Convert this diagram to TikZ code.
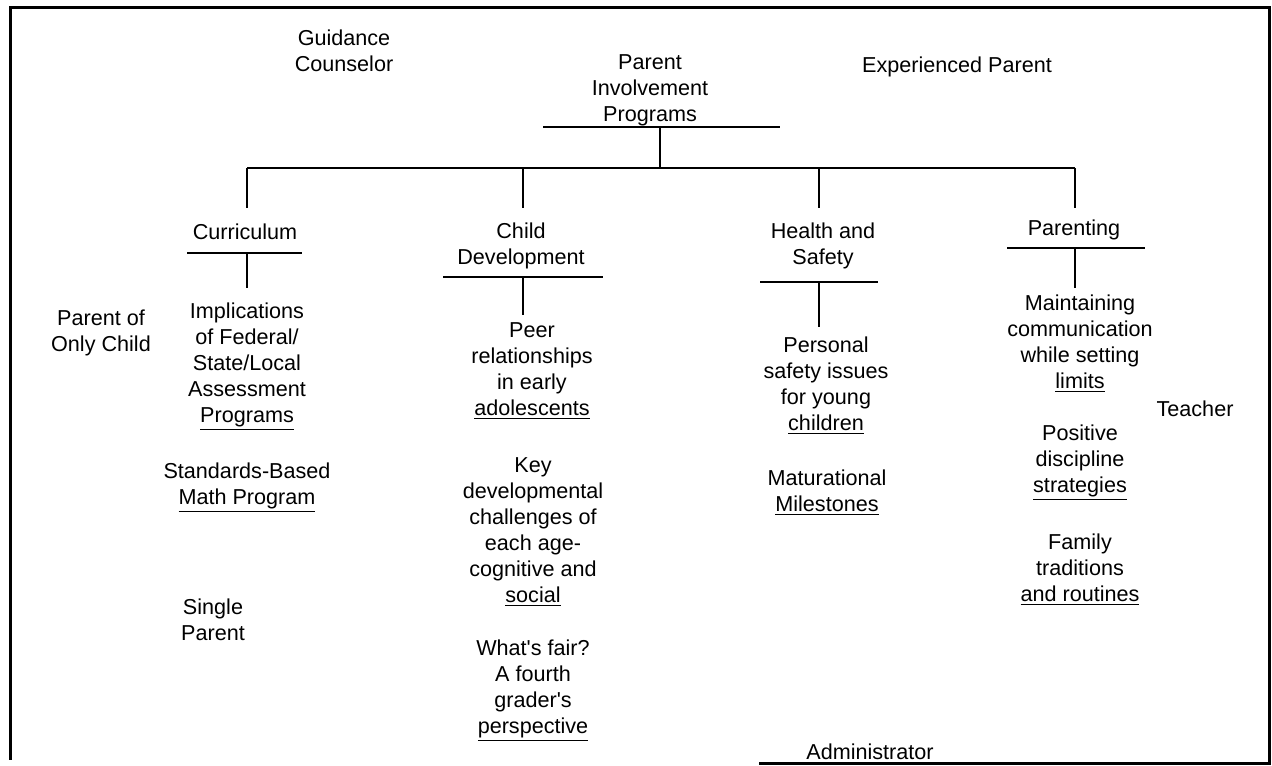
\documentclass[tikz,border=0pt]{standalone}
\usepackage{fontspec}
\setmainfont{Liberation Sans}
\usepackage{tikz}
\tikzset{
  tLbl/.style={align=center,inner sep=0pt,font=\fontsize{10.8}{13}\selectfont},
  tLine/.style={line width=.9pt},
  tFrame/.style={line width=1.5pt,line cap=rect},
}

\begin{document}
\begin{tikzpicture}[x=.5pt,y=-.5pt]
\useasboundingbox (0,0) rectangle (1272,765);
% frame (bottom edge only partly printed)
\draw[tFrame] (760,763) -- (1269,763) -- (1269,8) -- (10,8) -- (10,758);

% people around the chart
\node[tLbl] (gc)    at (344,51)  {Guidance\\Counselor};
\node[tLbl] (exp)   at (957,67)  {Experienced Parent};
\node[tLbl] (poc)   at (101,333) {Parent of\\Only Child};
\node[tLbl] (sgl)   at (213,620) {Single\\Parent};
\node[tLbl] (tch)   at (1195,409) {Teacher};
\node[tLbl] (adm)   at (870,752) {Administrator};

% root and topics
\node[tLbl] (root)  at (650,90)  {Parent\\Involvement\\Programs};
\node[tLbl] (cur)   at (245,232) {Curriculum};
\node[tLbl] (cd)    at (521,246) {Child\\Development};
\node[tLbl] (hs)    at (823,246) {Health and\\Safety};
\node[tLbl] (par)   at (1074,230) {Parenting};

% programs under each topic
\node[tLbl] (imp)   at (247,367) {Implications\\of Federal/\\State/Local\\Assessment\\\underline{Programs}};
\node[tLbl] (math)  at (247,488) {Standards-Based\\\underline{Math Program}};
\node[tLbl] (peer)  at (532,371) {Peer\\relationships\\in early\\\underline{adolescents}};
\node[tLbl] (key)   at (533,532) {Key\\developmental\\challenges of\\each age-\\cognitive and\\\underline{social}};
\node[tLbl] (fair)  at (533,691) {What\textquotesingle s fair?\\A fourth\\grader\textquotesingle s\\\underline{perspective}};
\node[tLbl] (pers)  at (826,386) {Personal\\safety issues\\for young\\\underline{children}};
\node[tLbl] (mat)   at (827,493) {Maturational\\\underline{Milestones}};
\node[tLbl] (maint) at (1080,344) {Maintaining\\communication\\while setting\\\underline{limits}};
\node[tLbl] (pos)   at (1080,463) {Positive\\discipline\\\underline{strategies}};
\node[tLbl] (fam)   at (1080,570) {Family\\traditions\\\underline{and routines}};

% bars and joints
\coordinate (rootbar) at (660,127);
\coordinate (bus)     at (660,168);
\coordinate (curin)   at (247,208);
\coordinate (cdin)    at (523,208);
\coordinate (hsin)    at (819,208);
\coordinate (parin)   at (1075,208);
\coordinate (curbar)  at (247,253);
\coordinate (cdbar)   at (523,277);
\coordinate (hsbar)   at (819,282);
\coordinate (parbar)  at (1075,248);
\coordinate (curout)  at (247,288);
\coordinate (cdout)   at (523,315);
\coordinate (hsout)   at (819,327);
\coordinate (parout)  at (1075,288);

\draw[tLine] (rootbar) ++(-117,0) -- ++(237,0);
\draw[tLine] (curbar) ++(-60,0) -- ++(115,0);
\draw[tLine] (cdbar) ++(-80,0) -- ++(160,0);
\draw[tLine] (hsbar) ++(-59,0) -- ++(118,0);
\draw[tLine] (parbar) ++(-68,0) -- ++(138,0);

\draw[tLine] (rootbar) -- (bus);
\draw[tLine] (curin |- bus) -- (parin |- bus);
\draw[tLine] (curin |- bus) -- (curin);
\draw[tLine] (cdin |- bus) -- (cdin);
\draw[tLine] (hsin |- bus) -- (hsin);
\draw[tLine] (parin |- bus) -- (parin);
\draw[tLine] (curbar) -- (curout);
\draw[tLine] (cdbar) -- (cdout);
\draw[tLine] (hsbar) -- (hsout);
\draw[tLine] (parbar) -- (parout);
\end{tikzpicture}
\end{document}
